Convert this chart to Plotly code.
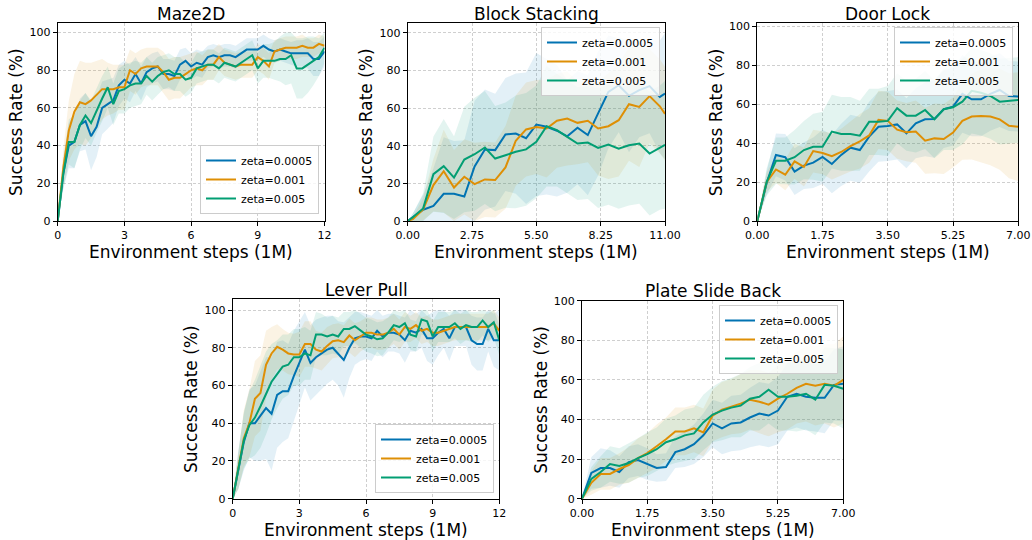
import numpy as np
import plotly.graph_objects as go

# ---------------- data ----------------
series_names = ["zeta=0.0005", "zeta=0.001", "zeta=0.005"]
colors = ["#0173b2", "#de8f05", "#029e73"]
fill_colors = ["rgba(1,115,178,0.11)", "rgba(222,143,5,0.11)", "rgba(2,158,115,0.11)"]

# Maze2D
maze_x = [i * 0.25 for i in range(49)]
maze_mean = [
    [0,25,40,42,51,53,45,50,60,62,64,72,75,73,78,73,79,81,82,78,78,77,83,85,82,84,83,87,88,87,88,88,87,89,91,91,91,93,91,90,91,90,89,89,89,89,86,86,90],
    [0,28,48,58,63,62,64,67,70,70,70,71,71,80,78,81,82,82,82,79,75,76,76,78,80,81,80,83,83,87,84,83,82,83,83,83,87,85,82,90,91,92,92,92,93,92,92,94,93],
    [0,25,42,42,51,56,52,59,65,71,62,69,70,72,73,73,77,74,77,79,80,78,78,75,76,81,82,83,83,81,84,83,82,84,86,88,81,85,85,85,86,86,88,81,81,83,85,87,92],
]
maze_std = [
    [0,8,12,14,14,15,18,16,14,13,12,11,10,10,9,9,8,8,8,8,8,8,8,7,7,7,7,6,6,6,6,6,6,6,6,6,6,6,6,6,6,6,6,7,7,8,9,9,8],
    [0,10,16,20,22,22,20,18,16,14,13,12,12,11,11,10,10,10,10,11,11,11,11,10,9,9,8,8,8,7,7,7,7,7,7,7,7,7,7,6,6,6,6,6,6,5,5,5,5],
    [0,8,12,14,13,12,12,12,12,11,11,12,13,12,12,11,10,10,10,9,9,9,9,9,8,8,8,8,8,8,8,8,8,8,8,8,8,9,9,10,12,14,15,16,16,15,13,10,8],
]

# Block Stacking
block_x = [0, 0.22, 0.66, 1.10, 1.54, 1.98, 2.42, 2.86, 3.30, 3.74, 4.18, 4.62, 5.06, 5.50,
           5.94, 6.38, 6.82, 7.26, 7.70, 8.14, 8.58, 9.02, 9.46, 9.90, 10.34, 10.78, 11.0]
block_mean = [
    [0,2,6,8,14.5,14.5,13,29,38,37.7,46,46.5,44,51.3,50.1,48,45,49.6,45.7,57.2,68.7,72.2,66.6,69.6,71.7,66,67.8],
    [0,1,6.2,19.1,26.5,17.8,23.5,19.6,22.1,21.8,28.5,42.7,48.7,50,49.2,53.3,54.5,52.2,53.3,49.2,50.4,53.6,62.1,60.7,66.4,61,57],
    [0,2,6.7,24.9,29.2,23.1,32.7,35.5,39.1,33.2,35,36.8,38.1,42.1,50.4,48.3,44.7,41.2,41.7,38.9,40.6,38.5,40.3,41.2,35.9,39,40.5],
]
block_std = [
    [0,2,8,20,30,28,30,35,32,30,30,32,35,38,36,35,30,30,32,33,30,25,30,25,25,30,35],
    [0,1,6,14,22,20,20,22,20,20,22,24,25,25,26,25,25,22,22,25,28,30,30,32,25,25,25],
    [0,2,8,20,25,22,28,30,30,28,28,30,30,30,32,30,30,30,30,32,32,32,32,32,33,33,34],
]

# Door Lock
door_x = [i * 0.25 for i in range(29)]
door_mean = [
    [0,19.4,34,32.8,25.4,28.5,30,33,29.3,34,37.7,36.5,43.4,48.5,48.9,49.7,45.1,50.3,52.3,52.5,57.5,58.8,65.4,62.6,62.6,65.4,67.4,64.3,64],
    [0,20,26.5,23.8,30.7,27.8,36,35,33.3,35.5,38.5,41,44,52,51.5,47,45.7,46,41.3,42.5,42.2,45.5,51.5,53.7,54,53.7,52.3,49,48.5],
    [0,20,31,31,32.8,36.5,38.2,38.2,46,44.8,44.8,43.9,51,51,51.5,58,54.2,54.2,57.1,52.3,57.5,58.5,61.4,67,66,64.3,61.4,61.7,62.3],
]
door_std = [
    [0,6,11,12,12,12,13,14,15,16,17,17,18,18,18,18,18,18,19,20,20,20,20,19,19,19,19,18,18],
    [0,5,7,8,9,10,11,11,12,12,13,14,14,15,15,15,15,16,17,18,18,18,20,22,24,25,26,27,28],
    [0,7,12,12,14,15,17,18,19,19,19,18,17,17,18,18,18,19,20,20,21,22,22,22,22,22,22,22,22],
]

# Lever Pull
lever_x = [i * 0.25 for i in range(49)]
lever_mean = [
    [0,15,30,40,40,44,48,45,55,57,57,65,72,79,72,75,77,79,80,77,73.5,80,85,86,86,85,89,86,88,88,87,84,89,88,90,85,85,88,90,85,91,91,91,84,82,82,90,84,84],
    [0,15,32,40,53,56,71,77,80.5,79,77,76.5,76.5,82,82,79,78,81,83.5,84,83,86.5,84,86,88,88,87,87,88,90,87,91,90,92,89,90,88,88,89,90,91,91,91,91,91,91,91,93,89],
    [0,15,31,39,43,49,56,62,66,70,71,75,75,77,76,87,87,86,87,86,90,90,91.5,89,87,86,84.5,85,88,92,91,93,87,86,95,94,86,91,91,91,93,90,92,91,91,94.5,91,93.5,84],
]
lever_std = [
    [0,10,15,18,20,24,27,30,28,27,25,24,22,20,20,20,19,18,17,17,20,16,14,13,12,12,11,11,10,10,10,12,11,10,10,12,14,12,10,12,10,10,10,13,14,14,12,14,16],
    [0,10,15,18,20,20,18,14,12,11,11,11,12,12,12,10,10,10,9,9,9,9,9,8,8,8,8,8,8,8,8,8,7,7,7,7,7,7,7,7,7,7,7,7,7,7,7,7,7],
    [0,10,15,18,20,22,22,20,18,17,16,15,15,14,13,12,11,10,10,10,9,9,9,9,9,9,9,9,8,8,8,8,8,8,8,8,8,8,8,8,8,8,8,8,8,8,8,8,8],
]

# Plate Slide Back
plate_x = [i * 0.25 for i in range(29)]
plate_mean = [
    [0,13,15.5,15.5,13.5,18.5,19.5,17.5,15.5,16,23.5,25,27.5,32,38,35.5,38,38.5,41,43,42,44.5,51.5,53,51.5,51,51,57.5,58],
    [0,8,12.5,12.5,15,17,20.5,23,26.5,30,34,34,35.5,33.5,42,45,46.5,48,50,49,47.5,50.5,53,56,58,57,58,57,60],
    [0,10,13.5,17.5,16.5,18,20.5,22.5,25,28.5,30,32,33,38.5,42.5,44.5,46,47,50.5,51.5,55,51.5,51.5,52,53,50,57.5,57,55.5],
]
plate_std = [
    [0,8,10,9,8,8,8,8,7,7,8,9,10,11,12,13,14,14,15,16,16,17,17,17,17,17,18,18,19],
    [0,6,8,8,8,9,10,10,11,11,12,12,12,12,13,14,14,15,15,16,16,17,18,18,19,20,20,21,22],
    [0,6,8,9,9,10,10,11,11,12,12,13,13,14,14,15,15,16,16,17,17,17,17,18,18,18,19,19,20],
]

titles = ["Maze2D", "Block Stacking", "Door Lock", "Lever Pull", "Plate Slide Back"]
x_tick_vals = [[0, 3, 6, 9, 12], [0, 2.75, 5.5, 8.25, 11], [0, 1.75, 3.5, 5.25, 7],
               [0, 3, 6, 9, 12], [0, 1.75, 3.5, 5.25, 7]]
x_tick_text = [["0", "3", "6", "9", "12"], ["0.00", "2.75", "5.50", "8.25", "11.00"],
               ["0.00", "1.75", "3.50", "5.25", "7.00"], ["0", "3", "6", "9", "12"],
               ["0.00", "1.75", "3.50", "5.25", "7.00"]]
y_tick_vals = [0, 20, 40, 60, 80, 100]
panels = [
    (maze_x, maze_mean, maze_std),
    (block_x, block_mean, block_std),
    (door_x, door_mean, door_std),
    (lever_x, lever_mean, lever_std),
    (plate_x, plate_mean, plate_std),
]

# ---------------- layout geometry (pixels) ----------------
W, H = 1032, 540
boxes = [  # left, right, top, bottom (px)
    (57.7, 324.5, 23.0, 221.0),
    (407.7, 665.0, 23.0, 221.0),
    (757.3, 1018.3, 23.3, 221.0),
    (232.7, 499.3, 299.3, 498.7),
    (582.0, 843.3, 300.7, 498.7),
]
x_ranges = [[0, 12], [0, 11], [0, 7], [0, 12], [0, 7]]
y_ranges = [[0, 105.1], [0, 105.3], [0, 101.7], [0, 105.7], [0, 100]]
legend_pos = [  # x(px), y(px), xanchor, yanchor
    (319, 214, "right", "bottom"),
    (660, 27, "right", "top"),
    (1013, 27, "right", "top"),
    (494, 493, "right", "bottom"),
    (838, 305, "right", "top"),
]
ylabel_x = [16, 366, 716, 191, 541]

FONT = "DejaVu Sans"
fig = go.Figure()
layout = dict(
    width=W, height=H, margin=dict(l=0, r=0, t=0, b=0, autoexpand=False),
    paper_bgcolor="white", plot_bgcolor="white",
    font=dict(family=FONT, size=11, color="black"),
    showlegend=True, annotations=[],
)

for p, (xs, means, stds) in enumerate(panels):
    ax = "" if p == 0 else str(p + 1)
    xref, yref = "x" + ax, "y" + ax
    leg = "legend" if p == 0 else "legend" + str(p + 1)
    # bands
    for s in range(3):
        m = np.array(means[s], dtype=float)
        sd = np.array(stds[s], dtype=float)
        up = np.clip(m + sd, 0, 100)
        lo = np.clip(m - sd, 0, 100)
        fig.add_trace(go.Scatter(
            x=list(xs) + list(xs)[::-1], y=list(up) + list(lo)[::-1],
            fill="toself", fillcolor=fill_colors[s], line=dict(width=0),
            mode="lines", hoverinfo="skip", showlegend=False,
            xaxis=xref, yaxis=yref))
    # lines
    for s in range(3):
        fig.add_trace(go.Scatter(
            x=xs, y=means[s], mode="lines", name=series_names[s],
            line=dict(color=colors[s], width=2), legend=leg,
            xaxis=xref, yaxis=yref))

    l, r, t, b = boxes[p]
    common = dict(showline=True, linecolor="black", linewidth=1, mirror=True,
                  ticks="outside", ticklen=4, tickwidth=1, tickcolor="black",
                  showgrid=True, gridcolor="#cfcfcf", griddash="3px,2px", gridwidth=1,
                  zeroline=False, automargin=False,
                  tickfont=dict(family=FONT, size=11, color="black"))
    layout["xaxis" + ax] = dict(common, domain=[l / W, r / W], range=x_ranges[p],
                                anchor=yref, tickvals=x_tick_vals[p], ticktext=x_tick_text[p])
    layout["yaxis" + ax] = dict(common, domain=[1 - b / H, 1 - t / H], range=y_ranges[p],
                                anchor=xref, tickvals=y_tick_vals)
    lx, ly, xa, ya = legend_pos[p]
    layout[leg] = dict(x=lx / W, y=1 - ly / H, xanchor=xa, yanchor=ya,
                       bgcolor="rgba(255,255,255,0.8)", bordercolor="#cccccc", borderwidth=1,
                       font=dict(family=FONT, size=11, color="black"), itemwidth=30,
                       tracegroupgap=0)
    # title
    layout["annotations"].append(dict(
        text=titles[p], x=(l + r) / 2 / W, y=1 - (t + 2.5) / H, xref="paper", yref="paper",
        xanchor="center", yanchor="bottom", showarrow=False,
        font=dict(family=FONT, size=17, color="black")))
    # x label
    layout["annotations"].append(dict(
        text="Environment steps (1M)", x=(l + r) / 2 / W, y=1 - (b + 31) / H,
        xref="paper", yref="paper", xanchor="center", yanchor="middle", showarrow=False,
        font=dict(family=FONT, size=17, color="black")))
    # y label
    layout["annotations"].append(dict(
        text="Success Rate (%)", x=ylabel_x[p] / W, y=1 - (t + b) / 2 / H,
        xref="paper", yref="paper", xanchor="center", yanchor="middle", showarrow=False,
        textangle=-90, font=dict(family=FONT, size=17, color="black")))

fig.update_layout(**layout)
fig.write_html("out.html")
